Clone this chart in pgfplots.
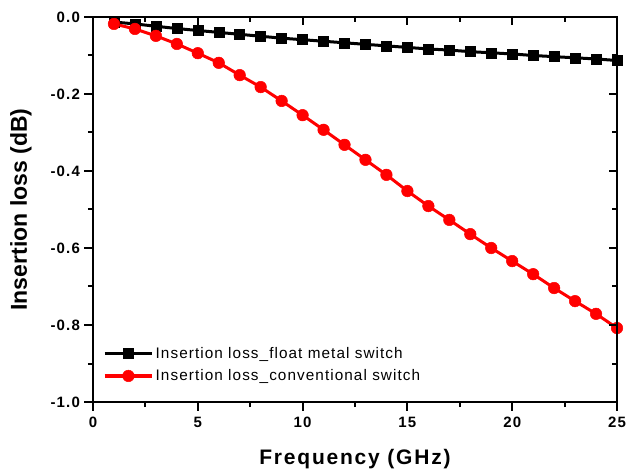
\documentclass[border=0pt]{standalone}
\usepackage{pgfplots}
\pgfplotsset{compat=1.18}
\usepackage{fontspec}
\setmainfont{Liberation Sans}
\newfontfamily\legfont[LetterSpace=7]{Liberation Sans}
\newfontfamily\xlabfont[LetterSpace=8.5]{Liberation Sans}
\newfontfamily\tickfont[LetterSpace=8]{Liberation Sans}
\begin{document}
\begin{tikzpicture}
\pgfplotsset{
  common/.style={
    scale only axis, width=524pt, height=385pt,
    xmin=0, xmax=25, ymin=-1, ymax=0,
    xtick={0,5,...,25}, minor x tick num=1,
    ytick={-1,-0.8,...,0}, minor y tick num=1,
    axis line style={line width=2.5pt},
    major tick length=8.5pt, minor tick length=5pt,
    every tick/.style={black, line width=2pt},
  }
}
\begin{axis}[common, name=main,
  tick align=outside, xtick pos=bottom, ytick pos=left,
  /pgf/number format/assume math mode=true,
  ticklabel style={font=\tickfont\fontsize{15}{17}\selectfont\bfseries},
  xticklabel style={yshift=-3pt},
  yticklabel style={xshift=-1pt, /pgf/number format/.cd, fixed, fixed zerofill, precision=1},
  xlabel={Frequency (GHz)}, ylabel={Insertion loss (dB)},
  xlabel style={font=\xlabfont\fontsize{21}{24}\selectfont\bfseries, at={(axis description cs:0.5,0)}, anchor=center, yshift=-57pt},
  ylabel style={font=\fontsize{23}{26}\selectfont\bfseries, at={(axis description cs:0,0.5)}, anchor=center, xshift=0pt, yshift=72pt},
  legend style={draw=none, fill=none, at={(axis description cs:0.019,0.097)}, anchor=west,
    inner sep=0pt,
    font=\legfont\fontsize{15.3}{18}\selectfont, row sep=6pt,
    /tikz/every even column/.append style={column sep=0pt}},
  legend cell align=left,
  legend image code/.code={
    \draw[#1, line width=3.5pt] (0pt,0pt) -- (47pt,0pt);
    \draw[#1, mark repeat=2, mark phase=2] plot coordinates {(0pt,0pt) (23.5pt,0pt) (47pt,0pt)};
  },
]
\addplot[black, line width=3pt, mark=square*, mark size=5pt, mark options={solid, line width=0.5pt}] coordinates {
(1,-0.013) (2,-0.018) (3,-0.024) (4,-0.030) (5,-0.035) (6,-0.040) (7,-0.045) (8,-0.050) (9,-0.055) (10,-0.059)
(11,-0.063) (12,-0.067) (13,-0.071) (14,-0.075) (15,-0.079) (16,-0.083) (17,-0.086) (18,-0.090) (19,-0.093) (20,-0.096)
(21,-0.100) (22,-0.103) (23,-0.106) (24,-0.109) (25,-0.113)};
\addlegendentry{Insertion loss\_float metal switch}
\addplot[red, line width=3pt, mark=*, mark size=5.8pt, mark options={solid, line width=0.5pt}] coordinates {
(1,-0.018) (2,-0.031) (3,-0.049) (4,-0.070) (5,-0.094) (6,-0.119) (7,-0.151) (8,-0.182) (9,-0.218) (10,-0.255)
(11,-0.293) (12,-0.332) (13,-0.371) (14,-0.410) (15,-0.452) (16,-0.491) (17,-0.527) (18,-0.564) (19,-0.600) (20,-0.634)
(21,-0.668) (22,-0.704) (23,-0.738) (24,-0.771) (25,-0.808)};
\addlegendentry{Insertion loss\_conventional switch}
\end{axis}
\begin{axis}[common,
  tick align=inside, xtick pos=top, ytick pos=right,
  xticklabels={}, yticklabels={},
]
\end{axis}
\pgfresetboundingbox
\path[use as bounding box] ([xshift=-93pt,yshift=-72pt]main.south west) rectangle ([xshift=10pt,yshift=17pt]main.north east);
\end{tikzpicture}
\end{document}
